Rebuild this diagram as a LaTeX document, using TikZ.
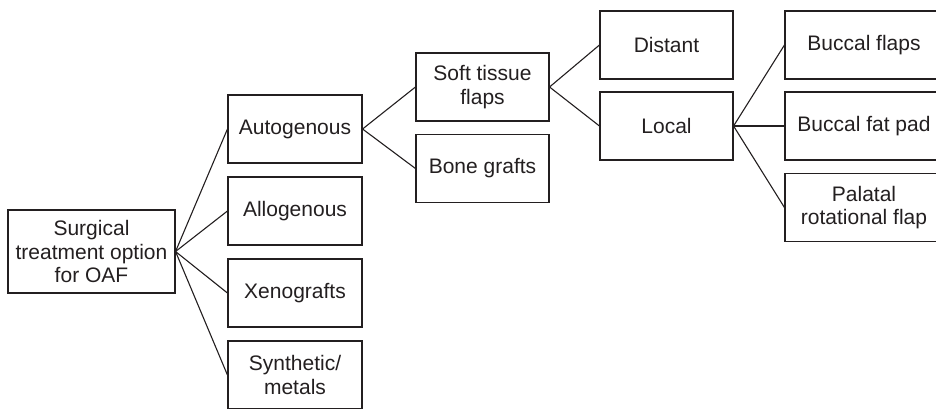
\documentclass[tikz,border=0pt]{standalone}
\usepackage{fontspec}
\setmainfont{Liberation Sans}
\definecolor{inkline}{HTML}{231F20}
\tikzset{
    optbox/.style={draw=inkline,line width=1.1pt,text=inkline,align=center,
        minimum width=134pt,minimum height=68pt,inner sep=0pt,
        font=\fontsize{21}{23.5}\selectfont},
    link/.style={draw=inkline,line width=1.1pt}
}
\begin{document}
\begin{tikzpicture}[x=1pt,y=-1pt]
            \useasboundingbox (0,0) rectangle (936,408);
            \clip (0,0) rectangle (936,408);

            \node[optbox,minimum width=167pt,minimum height=83pt] (root) at (91.5,251.5){Surgical\\treatment option\\for OAF};

            \node[optbox] (auto) at (295,129){Autogenous};
            \node[optbox] (allo) at (295,211){Allogenous};
            \node[optbox] (xeno) at (295,293){Xenografts};
            \node[optbox] (synth) at (295,375){Synthetic/\\metals};

            \node[optbox,minimum width=133pt] (soft) at (482.5,87){Soft tissue\\flaps};
            \node[optbox,minimum width=133pt] (bone) at (482.5,168.5){Bone grafts};

            \node[optbox,minimum width=133pt] (distant) at (666.5,45){Distant};
            \node[optbox,minimum width=133pt] (local) at (666.5,126){Local};

            \node[optbox,minimum width=158pt] (buccal) at (864,45){Buccal flaps};
            \node[optbox,minimum width=158pt] (fatpad) at (864,126){Buccal fat pad};
            \node[optbox,minimum width=158pt] (palatal) at (864,207.5){Palatal\\rotational flap};

            \foreach \n in {auto,allo,xeno,synth}{
                \draw[link] (root.east)--(\n.west);
            }
            \foreach \n in {soft,bone}{
                \draw[link] (auto.east)--(\n.west);
            }
            \foreach \n in {distant,local}{
                \draw[link] (soft.east)--(\n.west);
            }
            \foreach \n in {buccal,fatpad,palatal}{
                \draw[link] (local.east)--(\n.west);
            }
        \end{tikzpicture}
\end{document}
